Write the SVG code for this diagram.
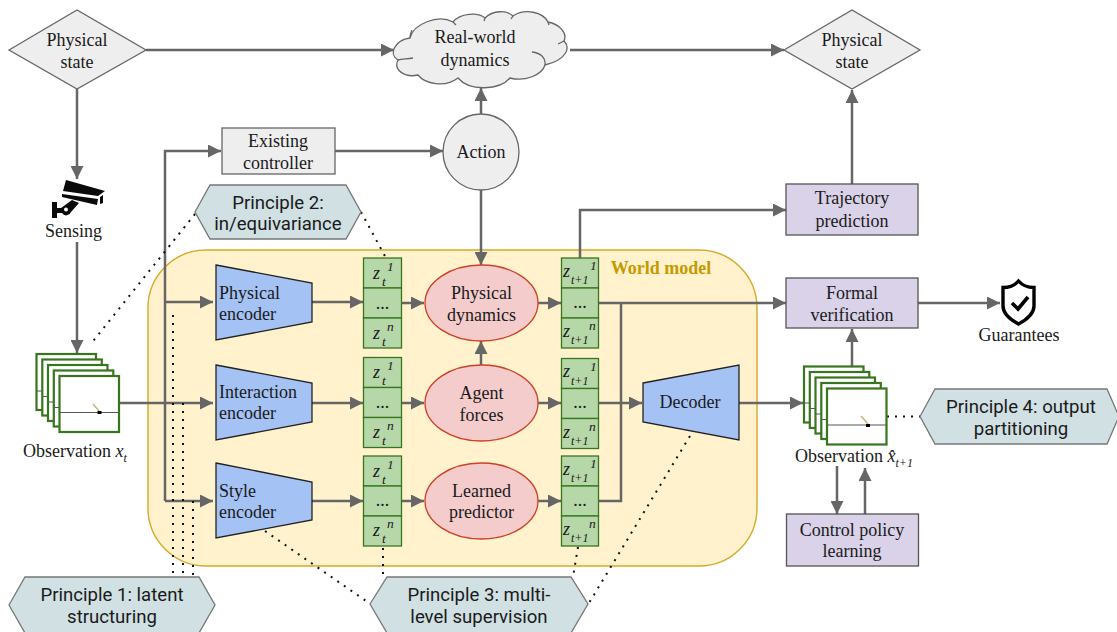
<svg xmlns="http://www.w3.org/2000/svg" width="1117" height="632" viewBox="0 0 1117 632">
<style>
text{font-family:"Liberation Serif",serif;font-size:18px;fill:#1a1a1a;text-anchor:middle}
.l{text-anchor:start}
.p{font-family:Roboto,"Liberation Sans",sans-serif;font-size:18.6px}
.z{font-style:italic;text-anchor:start;font-size:18px}
.s{font-size:13.500px}
.w{font-size:12px}
.grey{fill:#eeeeee;stroke:#666;stroke-width:1.3}
.purple{fill:#d9d2e9;stroke:#555;stroke-width:1.3}
.hex{fill:#d0e0e3;stroke:#777;stroke-width:1.3}
.enc{fill:#a4c2f4;stroke:#222;stroke-width:1.3}
.ell{fill:#f4cccc;stroke:#cc4125;stroke-width:1.3}
.cell{fill:#b6d7a8;stroke:#38761d;stroke-width:1.3}
.fr{fill:#fff;stroke:#38761d;stroke-width:2.200}
.hz{stroke:#555;stroke-width:1;fill:none}
.c path{fill:none;stroke:#666;stroke-width:2.500}
.a{marker-end:url(#arr)}
.d path{fill:none;stroke:#111;stroke-width:2;stroke-dasharray:2 6}
</style>
<defs>
<marker id="arr" markerUnits="userSpaceOnUse" markerWidth="14" markerHeight="13" refX="13" refY="6.500" orient="auto"><path d="M0,0 L13,6.500 L0,13 Z" fill="#666"/></marker>
</defs>
<rect width="1117" height="632" fill="#fff"/>
<g id="world-model">
<rect x="148" y="250" width="609" height="316" rx="58" fill="#fff2cc" stroke="#d6a92a" stroke-width="1.4"/>
<text x="661" y="274" font-weight="bold" style="fill:#c49a00">World model</text>
</g>
<g class="c" id="connectors">
<path class="a" d="M146,50H394"/>
<path class="a" d="M570,50H784"/>
<path class="a" d="M77,89V179"/>
<path class="a" d="M77,242V353"/>
<path class="a" d="M118,403H213"/>
<path class="a" d="M165,501V151H221"/>
<path class="a" d="M165,302H213"/>
<path class="a" d="M165,501H213"/>
<path class="a" d="M335,151H443"/>
<path class="a" d="M481,114V88"/>
<path class="a" d="M481,190V265"/>
<path class="a" d="M481,365V341"/>
<path class="a" d="M312,302H363"/><path class="a" d="M312,403H363"/><path class="a" d="M312,501H363"/>
<path class="a" d="M402,303H424"/><path class="a" d="M402,403H424"/><path class="a" d="M402,501H424"/>
<path class="a" d="M538,303H561"/><path class="a" d="M538,403H561"/><path class="a" d="M538,501H561"/>
<path class="a" d="M580,258V210H786"/>
<path class="a" d="M599,303H786"/>
<path d="M621,303V501H599"/>
<path class="a" d="M599,403H642"/>
<path class="a" d="M739,403H803"/>
<path class="a" d="M918,303H1000"/>
<path class="a" d="M852,184V90"/>
<path class="a" d="M852,366V329"/>
<path class="a" d="M837,466V514"/>
<path class="a" d="M865,514V468"/>
</g>
<g class="d" id="dotted">
<path d="M195,214L90,345"/>
<path d="M361,212L386,258"/>
<path d="M173,315V577"/>
<path d="M183,403V577"/>
<path d="M193,501V577"/>
<path d="M265,531L369,603"/>
<path d="M383,548V577"/>
<path d="M578,547L573,577"/>
<path d="M690,436L589,603"/>
<path d="M887,416.500H920"/>
</g>
<g id="state-left"><polygon class="grey" points="9,50 77,10 146,50 77,89"/><text x="77" y="46">Physical</text><text x="77" y="68">state</text></g>
<g id="state-right"><polygon class="grey" points="784,50 852,10 920,50 852,89"/><text x="852" y="46">Physical</text><text x="852" y="68">state</text></g>
<g id="cloud">
<path class="grey" d="M410,38C413,24 438,14 453,22C460,13 478,12 485,18C493,10 507,10 513,16C525,8 543,12 548,22C558,24 568,32 564,41C571,48 566,60 545,65C542,75 525,82 510,78C500,90 470,92 458,78C445,88 425,84 418,75C405,78 393,70 398,60C388,54 395,40 410,38Z"/>
<path d="M413,58C407,59 402,59 398,60M532,52C541,53 546,58 545,65M564,41L558,44M548,22L549,25M513,16L511,19M485,18L484,21M453,22L456,25M410,38C410,34 411,32 412,30" fill="none" stroke="#666" stroke-width="1.3"/>
<text x="475" y="43">Real-world</text><text x="475" y="66">dynamics</text>
</g>
<g id="action"><circle class="grey" cx="481" cy="152" r="38"/><text x="481" y="158">Action</text></g>
<g id="controller"><rect class="grey" x="222" y="128" width="113" height="46"/><text x="278" y="147">Existing</text><text x="278" y="169">controller</text></g>
<g id="sensing">
<path d="M66,180L105,191L98,196L63,191Z" fill="#0a0a0a"/>
<path d="M62,194L98,199L97,205L62,197Z" fill="#0a0a0a"/>
<path d="M100,197L103,195L103,203L100,204Z" fill="#0a0a0a"/>
<path d="M52,202H57V208H61L72,200L79,203L71,212A5,5 0 0 1 62,213H57V218H52Z" fill="#0a0a0a"/>
<circle cx="66" cy="209.500" r="2" fill="#fff"/>
<text x="73.500" y="237">Sensing</text>
</g>
<g id="principle-2"><polygon class="hex" points="195,212 210,185 346,185 361,212 346,239 210,239"/><text class="p" x="278" y="209">Principle 2:</text><text class="p" x="278" y="230">in/equivariance</text></g>
<g id="principle-1"><polygon class="hex" points="9,605 25,577 199,577 215,605 199,633 25,633"/><text class="p" x="112" y="601">Principle 1: latent</text><text class="p" x="112" y="623">structuring</text></g>
<g id="principle-3"><polygon class="hex" points="370,604 387,577 571,577 588,604 571,633 387,633"/><text class="p" x="479" y="601">Principle 3: multi-</text><text class="p" x="479" y="623">level supervision</text></g>
<g id="principle-4"><polygon class="hex" points="920,416.500 935,389 1107,389 1119,416.500 1107,444 935,444"/><text class="p" x="1021" y="413">Principle 4: output</text><text class="p" x="1021" y="435">partitioning</text></g>
<g id="enc-physical"><polygon class="enc" points="216,265 312,283 312,322 216,340"/><text class="l" x="219" y="299">Physical</text><text class="l" x="219" y="320">encoder</text></g>
<g id="enc-interaction"><polygon class="enc" points="216,365 312,383 312,422 216,440"/><text class="l" x="219" y="398">Interaction</text><text class="l" x="219" y="419">encoder</text></g>
<g id="enc-style"><polygon class="enc" points="216,463 312,482 312,520 216,538"/><text class="l" x="219" y="497">Style</text><text class="l" x="219" y="518">encoder</text></g>
<g id="dyn-physical"><ellipse class="ell" cx="481.500" cy="303" rx="56.500" ry="38"/><text x="481.500" y="299">Physical</text><text x="481.500" y="321">dynamics</text></g>
<g id="dyn-agent"><ellipse class="ell" cx="481.500" cy="403" rx="56.500" ry="38"/><text x="481.500" y="399">Agent</text><text x="481.500" y="421">forces</text></g>
<g id="dyn-learned"><ellipse class="ell" cx="481.500" cy="501" rx="56.500" ry="38"/><text x="481.500" y="497">Learned</text><text x="481.500" y="518">predictor</text></g>
<g id="decoder"><polygon class="enc" points="643,383 739,365 739,440 643,422"/><text x="690" y="408">Decoder</text></g>
<g id="z-t-1">
<rect class="cell" x="363.500" y="258" width="38" height="30"/><rect class="cell" x="363.500" y="288" width="38" height="30"/><rect class="cell" x="363.500" y="318" width="38" height="30"/>
<text class="z" x="373" y="279">z</text><text class="z s" x="382" y="286">t</text><text class="z s" x="387" y="271">1</text>
<text x="382.500" y="309">...</text>
<text class="z" x="373" y="339">z</text><text class="z s" x="382" y="346">t</text><text class="z s" x="387" y="331">n</text>
</g>
<g id="z-t-2">
<rect class="cell" x="363.500" y="357.500" width="38" height="30"/><rect class="cell" x="363.500" y="387.500" width="38" height="30"/><rect class="cell" x="363.500" y="417.500" width="38" height="30"/>
<text class="z" x="373" y="378">z</text><text class="z s" x="382" y="385">t</text><text class="z s" x="387" y="370">1</text>
<text x="382.500" y="408">...</text>
<text class="z" x="373" y="438">z</text><text class="z s" x="382" y="445">t</text><text class="z s" x="387" y="430">n</text>
</g>
<g id="z-t-3">
<rect class="cell" x="363.500" y="456" width="38" height="30"/><rect class="cell" x="363.500" y="486" width="38" height="30"/><rect class="cell" x="363.500" y="516" width="38" height="30"/>
<text class="z" x="373" y="477">z</text><text class="z s" x="382" y="484">t</text><text class="z s" x="387" y="469">1</text>
<text x="382.500" y="506">...</text>
<text class="z" x="373" y="536">z</text><text class="z s" x="382" y="543">t</text><text class="z s" x="387" y="528">n</text>
</g>
<g id="z-t1-1">
<rect class="cell" x="561.500" y="258" width="37" height="30"/><rect class="cell" x="561.500" y="288" width="37" height="30"/><rect class="cell" x="561.500" y="318" width="37" height="30"/>
<text class="z" x="563" y="277">z</text><text class="z w" x="571" y="284">t+1</text><text class="z s" x="590" y="270">1</text>
<text x="580" y="308">...</text>
<text class="z" x="563" y="337">z</text><text class="z w" x="571" y="344">t+1</text><text class="z s" x="589" y="330">n</text>
</g>
<g id="z-t1-2">
<rect class="cell" x="561.500" y="358.500" width="37" height="30"/><rect class="cell" x="561.500" y="388.500" width="37" height="30"/><rect class="cell" x="561.500" y="418.500" width="37" height="30"/>
<text class="z" x="563" y="377">z</text><text class="z w" x="571" y="385">t+1</text><text class="z s" x="590" y="371">1</text>
<text x="580" y="408">...</text>
<text class="z" x="563" y="438">z</text><text class="z w" x="571" y="445">t+1</text><text class="z s" x="589" y="431">n</text>
</g>
<g id="z-t1-3">
<rect class="cell" x="561.500" y="456" width="37" height="30"/><rect class="cell" x="561.500" y="486" width="37" height="30"/><rect class="cell" x="561.500" y="516" width="37" height="30"/>
<text class="z" x="563" y="475">z</text><text class="z w" x="571" y="482">t+1</text><text class="z s" x="590" y="468">1</text>
<text x="580" y="506">...</text>
<text class="z" x="563" y="535">z</text><text class="z w" x="571" y="542">t+1</text><text class="z s" x="589" y="528">n</text>
</g>
<g id="obs-left">
<rect class="fr" x="36.500" y="354" width="59.500" height="56"/><path class="hz" d="M36.500,391H96"/>
<rect class="fr" x="42.300" y="359.500" width="59.500" height="56"/><path class="hz" d="M42.300,396.500H102"/>
<rect class="fr" x="48" y="365" width="59.500" height="56"/><path class="hz" d="M48,402H107.500"/>
<rect class="fr" x="53.800" y="370.500" width="59.500" height="56"/><path class="hz" d="M53.800,407.500H113"/>
<rect class="fr" x="59.500" y="376" width="59.500" height="56"/><path class="hz" d="M59.500,412.500H119"/>
<path d="M93,404L99,411" stroke="#c8ad7f" stroke-width="1.300"/><rect x="97.500" y="411" width="4" height="3" fill="#000"/>
<text x="23" y="457" class="l">Observation <tspan font-style="italic">x</tspan><tspan font-style="italic" font-size="12" dy="5">t</tspan></text>
</g>
<g id="obs-right">
<rect class="fr" x="804" y="366.500" width="59.500" height="56"/><path class="hz" d="M804,403H863.500"/>
<rect class="fr" x="809.800" y="372" width="59.500" height="56"/><path class="hz" d="M809.800,408.500H869"/>
<rect class="fr" x="815.500" y="377.500" width="59.500" height="56"/><path class="hz" d="M815.500,414H875"/>
<rect class="fr" x="821.300" y="383" width="59.500" height="56"/><path class="hz" d="M821.300,419.500H881"/>
<rect class="fr" x="827" y="388.500" width="59.500" height="56"/><path class="hz" d="M827,425H886.500"/>
<path d="M861,416L868,424" stroke="#c8ad7f" stroke-width="1.300"/><rect x="866" y="424" width="4" height="3" fill="#000"/>
<text x="795" y="462" class="l">Observation <tspan font-style="italic">x̂</tspan><tspan font-style="italic" font-size="12" dy="5">t+1</tspan></text>
</g>
<g id="trajectory"><rect class="purple" x="786" y="184" width="132" height="51"/><text x="852" y="204">Trajectory</text><text x="852" y="227">prediction</text></g>
<g id="formal"><rect class="purple" x="786" y="278" width="132" height="50"/><text x="852" y="299">Formal</text><text x="852" y="321">verification</text></g>
<g id="policy"><rect class="purple" x="786.500" y="514" width="132" height="52"/><text x="852" y="536">Control policy</text><text x="852" y="557">learning</text></g>
<g id="guarantees">
<path d="M1018.500,281C1015,285 1009,287.500 1003,287.500V306C1003,314 1011,320 1018.500,324C1026,320 1034,314 1034,306V287.500C1028,287.500 1022,285 1018.500,281Z" fill="#fff" stroke="#000" stroke-width="3.400"/>
<path d="M1012,303L1018,309L1028,297" fill="none" stroke="#000" stroke-width="3.600"/>
<text x="1019" y="341">Guarantees</text>
</g>
</svg>
